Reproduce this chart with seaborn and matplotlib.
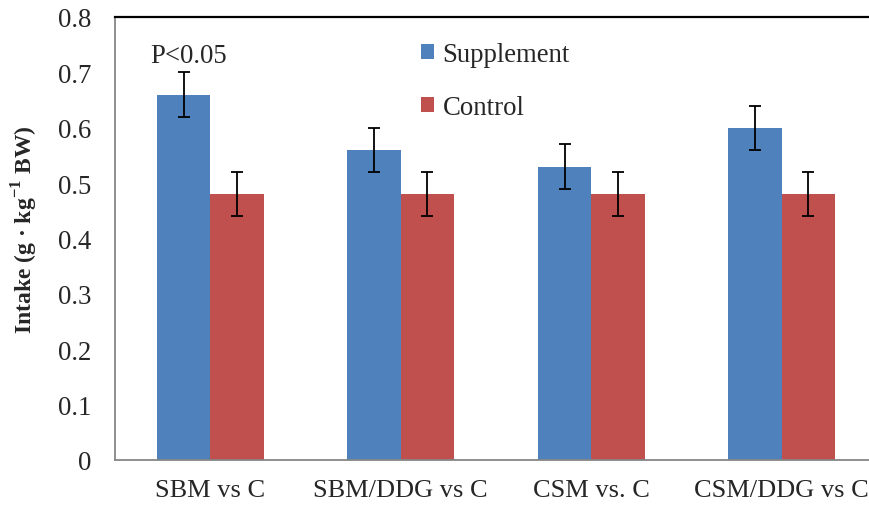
import matplotlib
matplotlib.use("Agg")
import matplotlib.pyplot as plt
import seaborn as sns
import pandas as pd
import numpy as np

categories = ["SBM vs C", "SBM/DDG vs C", "CSM vs. C", "CSM/DDG vs C"]
groups = ["Supplement", "Control"]
supplement = [0.66, 0.56, 0.53, 0.60]
control = [0.48, 0.48, 0.48, 0.48]
supplement_err = [0.04, 0.04, 0.04, 0.04]
control_err = [0.04, 0.04, 0.04, 0.04]
colors = ["#4F81BD", "#C0504D"]
y_ticks = [0, 0.1, 0.2, 0.3, 0.4, 0.5, 0.6, 0.7, 0.8]

df = pd.DataFrame({
    "cat": categories * 2,
    "group": [groups[0]] * 4 + [groups[1]] * 4,
    "val": supplement + control,
    "err": supplement_err + control_err,
})

sns.set_style("white")
plt.rcParams["font.family"] = ["Liberation Serif", "DejaVu Serif"]
plt.rcParams["mathtext.fontset"] = "custom"
plt.rcParams["mathtext.rm"] = "Liberation Serif"
plt.rcParams["mathtext.bf"] = "Liberation Serif:bold"

FS = 19.3

fig = plt.figure(figsize=(8.7, 5.06), dpi=100)
ax = fig.add_axes([115 / 870, 45 / 506, 762 / 870, 443 / 506])

sns.barplot(data=df, x="cat", y="val", hue="group", order=categories,
            hue_order=groups, palette=colors, width=0.56, errorbar=None,
            saturation=1, ax=ax, edgecolor="none", linewidth=0)

# error bars at bar centres
for container, g in zip(ax.containers, groups):
    sub = df[df.group == g].set_index("cat").loc[categories]
    xs = [p.get_x() + p.get_width() / 2 for p in container.patches]
    ax.errorbar(xs, sub["val"].values, yerr=sub["err"].values, fmt="none",
                ecolor="black", elinewidth=1.3, capsize=4.5, capthick=1.3)

# P<0.05 annotation above first supplement bar
p0 = ax.containers[0].patches[0]
ax.text(p0.get_x() + p0.get_width() / 2 + 0.025, 0.731, "P<0.05",
        ha="center", va="center", fontsize=FS)

ax.set_xlim(-0.5, len(categories) - 0.5)
ax.set_ylim(0, 0.8)
ax.set_yticks(y_ticks)
ax.set_yticklabels(["0" if v == 0 else f"{v:.1f}" for v in y_ticks], fontsize=FS)
ax.set_xticks(range(len(categories)))
ax.set_xticklabels(categories, fontsize=19)
ax.set_xticks(np.arange(-0.5, len(categories), 1.0), minor=True)
ax.tick_params(axis="x", which="major", length=0, pad=14)
ax.tick_params(axis="x", which="minor", length=7, width=1.3, color="#868686", direction="out")
ax.tick_params(axis="y", length=7, width=1.3, color="#868686", direction="out", pad=10)
ax.set_xlabel("")
ax.set_ylabel(r"Intake (g · kg$^{\mathbf{-1}}$ BW)", fontsize=17, fontweight="bold")
ax.yaxis.set_label_coords(-75 / 762, 0.5 + 10 / 443)

for s in ["left", "bottom"]:
    ax.spines[s].set_visible(True)
    ax.spines[s].set_color("#868686")
    ax.spines[s].set_linewidth(1.3)
ax.spines["top"].set_visible(True)
ax.spines["top"].set_color("black")
ax.spines["top"].set_linewidth(1.6)
ax.spines["right"].set_visible(False)

leg = ax.legend(loc="upper left", bbox_to_anchor=(421 / 870, 1 - 43 / 506),
                bbox_transform=fig.transFigure, frameon=False, fontsize=FS,
                handlelength=0.5, handleheight=0.5, handletextpad=0.3,
                labelspacing=1.05, borderpad=0, borderaxespad=0)

fig.savefig("out.png", dpi=100)
